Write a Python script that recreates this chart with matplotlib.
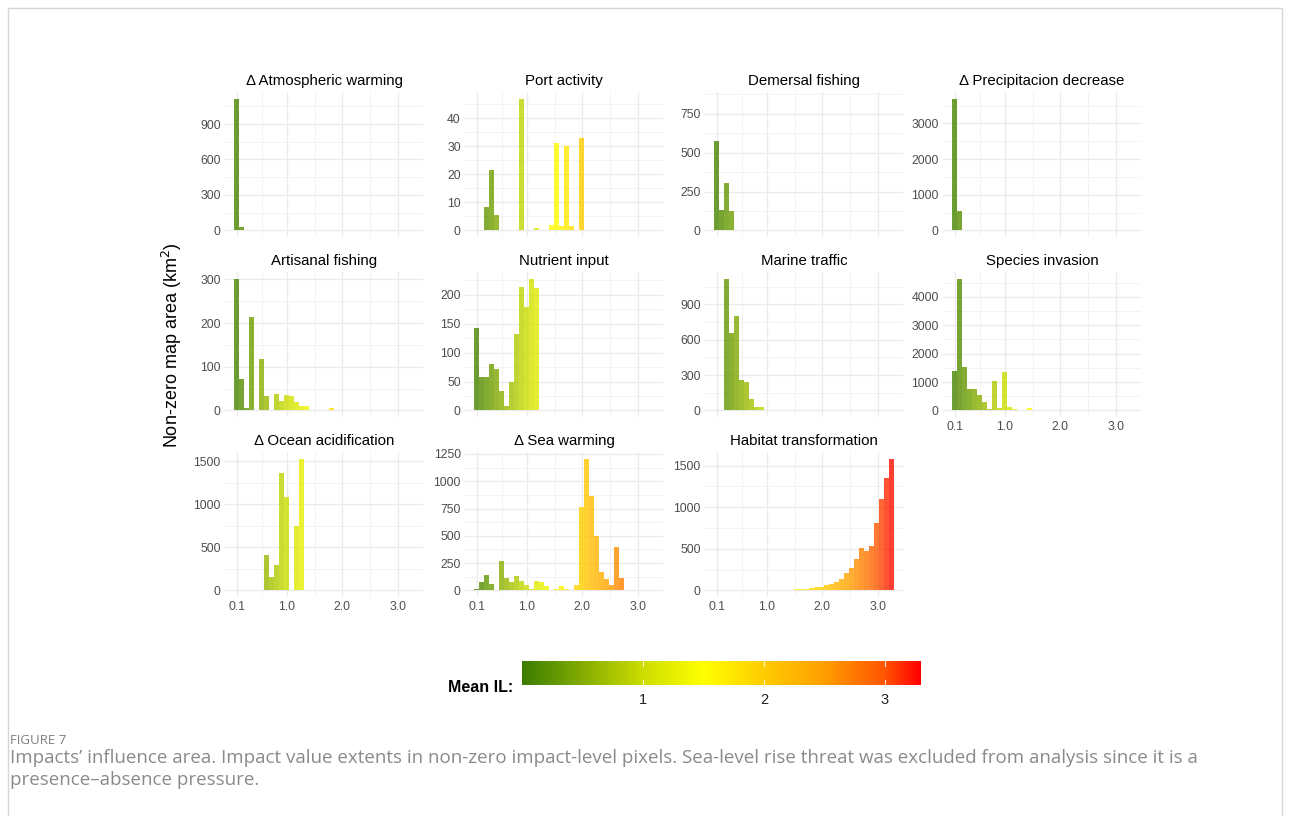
import numpy as np
import matplotlib
matplotlib.use('Agg')
import matplotlib.pyplot as plt
from matplotlib.colors import LinearSegmentedColormap, Normalize
from matplotlib.cm import ScalarMappable
from matplotlib.patches import Rectangle

plt.rcParams['font.family'] = ['Liberation Sans', 'DejaVu Sans']

# histogram bins (36 bins of width 0.09)
bin_edges = np.linspace(0.05, 3.29, 37)

panel_titles = ['Δ Atmospheric warming', 'Port activity', 'Demersal fishing', 'Δ Precipitacion decrease',
                'Artisanal fishing', 'Nutrient input', 'Marine traffic', 'Species invasion',
                'Δ Ocean acidification', 'Δ Sea warming', 'Habitat transformation']

# area per bin (km2), trailing empty bins left out
atmospheric_warming = [1115, 31, 0, 5, 5, 0, 0, 0, 5, 3]
port_activity = [0, 0, 8.5, 21.5, 5.5, 0, 0, 0, 0, 47, 0, 0, 1, 0, 0, 1.8, 31, 1.5, 30, 1.5, 0, 33]
demersal_fishing = [573, 131, 308, 125]
precipitation_decrease = [3695, 557, 0, 20, 15, 25, 25, 10, 5]
artisanal_fishing = [302, 71, 5, 215, 0, 118, 33, 0, 37, 21, 35, 32, 20, 11, 11, 0, 2, 0, 0, 5]
nutrient_input = [143, 57, 57, 80, 71, 33, 7, 49, 133, 213, 178, 228, 212]
marine_traffic = [0, 0, 1119, 661, 801, 256, 242, 93, 30, 30, 0, 3]
species_invasion = [1376, 4641, 1528, 758, 760, 525, 280, 60, 1050, 80, 1360, 130, 60, 20, 20, 100]
ocean_acidification = [0, 0, 0, 0, 3, 3, 415, 154, 300, 1365, 1088, 0, 742, 1530]
sea_warming = [15, 73, 137, 55, 6, 268, 116, 76, 134, 85, 49, 9, 88, 79, 37, 6, 15, 37, 15, 6,
               46, 768, 1207, 866, 500, 171, 107, 46, 399, 116]
habitat_transformation = [0] * 11 + [3, 4, 6, 8, 10, 14, 18, 22, 25, 35, 45, 60, 80, 100, 140, 215,
                                     271, 375, 515, 479, 538, 810, 1101, 1348, 1583]

panel_counts = [atmospheric_warming, port_activity, demersal_fishing, precipitation_decrease,
                artisanal_fishing, nutrient_input, marine_traffic, species_invasion,
                ocean_acidification, sea_warming, habitat_transformation]
ytick_steps = [300, 10, 250, 1000, 100, 50, 300, 1000, 500, 250, 500]
ymax_override = {2: 848}

W, H = 1290, 816
fig = plt.figure(figsize=(W / 100, H / 100), dpi=100)


def box(x, y, w, h):
    return [x / W, 1 - (y + h) / H, w / W, h / H]


# Mean IL colour scale, 0 - 3.3
il_max = 3.3
il_nodes = [0, 0.5, 1.0, 1.5, 2.0, 2.5, 3.0, 3.3]
il_colors = ['#3B7D00', '#84AC00', '#CCDD00', '#FFFF00', '#FFCC00', '#FF9F00', '#FF5500', '#FF0000']
cmap = LinearSegmentedColormap.from_list('il', list(zip([v / il_max for v in il_nodes], il_colors)))
norm = Normalize(0, il_max)

col_left = [225, 465, 705, 943]
row_top = [92, 272, 452]
pw, ph = 198, 145
centers = (bin_edges[:-1] + bin_edges[1:]) / 2

for i, (title, counts) in enumerate(zip(panel_titles, panel_counts)):
    r, c = divmod(i, 4)
    ax = fig.add_axes(box(col_left[c], row_top[r], pw, ph))
    vals = np.zeros(36)
    vals[:len(counts)] = counts
    ax.bar(centers, vals, width=0.09, color=cmap(norm(centers)), alpha=0.8, linewidth=0, zorder=3)
    top = ymax_override.get(i, vals.max())
    ax.set_ylim(-0.05 * top, 1.05 * top)
    ax.set_xlim(-0.112, 3.452)
    step = ytick_steps[i]
    ax.set_yticks(np.arange(0, 1.05 * top, step))
    ax.set_yticks(np.arange(step / 2, 1.05 * top, step), minor=True)
    ax.set_yticklabels([f'{v:g}' for v in np.arange(0, 1.05 * top, step)])
    ax.set_xticks([0.1, 1, 2, 3])
    ax.set_xticklabels(['0.1', '1.0', '2.0', '3.0'])
    ax.set_xticks([0.55, 1.5, 2.5, 3.45], minor=True)
    ax.grid(which='major', color='#EBEBEB', lw=1.0, zorder=0)
    ax.grid(which='minor', color='#F3F3F3', lw=0.7, zorder=0)
    for s in ax.spines.values():
        s.set_visible(False)
    ax.tick_params(which='both', length=0, labelsize=8.8, labelcolor='#4D4D4D', pad=3)
    if not (r == 2 or (r == 1 and c == 3)):
        ax.tick_params(axis='x', labelbottom=False)
    ax.set_title(title, fontsize=10.8, pad=5)

fig.text(172 / W, 1 - 345 / H, 'Non-zero map area (km$^2$)', rotation=90, ha='center', va='center', fontsize=13)

# colour legend
cax = fig.add_axes(box(522, 661, 399, 24))
cb = fig.colorbar(ScalarMappable(norm=norm, cmap=cmap), cax=cax, orientation='horizontal', ticks=[1, 2, 3])
cb.outline.set_visible(False)
cax.tick_params(length=0, labelsize=10.5, pad=6, labelcolor='#222222')
for v in [1, 2, 3]:
    cax.axvline(v, ymin=0, ymax=0.2, color='white', lw=0.8, alpha=0.8)
    cax.axvline(v, ymin=0.8, ymax=1, color='white', lw=0.8, alpha=0.8)
fig.text(513 / W, 1 - 687 / H, 'Mean IL:', ha='right', va='center', fontsize=11.5, fontweight='bold')

# caption
fig.text(10 / W, 1 - 741 / H, 'FIGURE 7', ha='left', va='center', fontsize=9.5, color='#7F7F7F',
         family=['Open Sans', 'DejaVu Sans'])
fig.text(10 / W, 1 - 758 / H, 'Impacts\u2019 influence area. Impact value extents in non-zero impact-level pixels. '
         'Sea-level rise threat was excluded from analysis since it is a', ha='left', va='center',
         fontsize=13.5, color='#8A8A8A', family=['Open Sans', 'DejaVu Sans'])
fig.text(10 / W, 1 - 780 / H, 'presence\u2013absence pressure.', ha='left', va='center',
         fontsize=13.5, color='#8A8A8A', family=['Open Sans', 'DejaVu Sans'])

fig.patches.append(Rectangle((8 / W, -0.01), 1274 / W, 1 - 8 / H + 0.01, transform=fig.transFigure,
                             fill=False, edgecolor='#D6D6D6', lw=1))

fig.savefig('out.png', dpi=100)
